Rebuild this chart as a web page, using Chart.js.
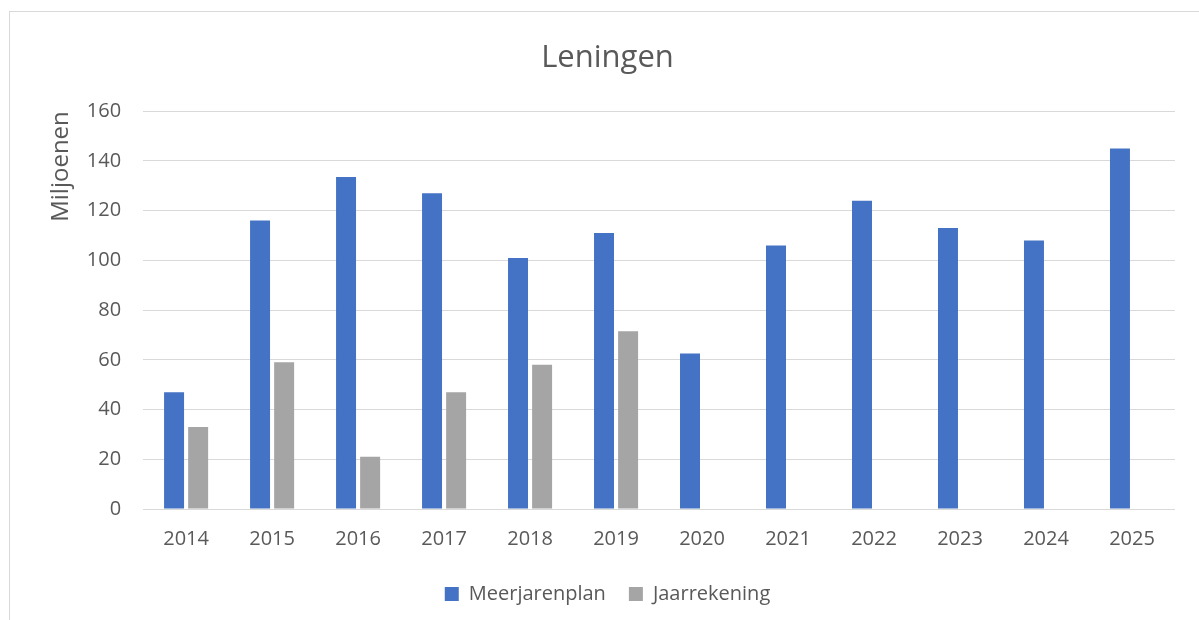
<!DOCTYPE html>
<html lang="nl">
<head>
<meta charset="UTF-8">
<title>Leningen</title>
<script src="https://cdn.jsdelivr.net/npm/chart.js"></script>
<style>
body {
    margin: 0;
    padding: 0;
    background: white;
    width: 1199px;
    height: 620px;
    overflow: hidden;
}
.frame {
    position: absolute;
    left: 9px;
    top: 11px;
    width: 1300px;
    height: 700px;
    border: 1px solid #d9d9d9;
}
.chart-container {
    position: absolute;
    left: 0;
    top: 0;
    width: 1199px;
    height: 620px;
}
</style>
</head>
<body>
<div class="frame"></div>
<div class="chart-container">
    <canvas id="leningen"></canvas>
</div>
<script>
// data
const jaren = ['2014', '2015', '2016', '2017', '2018', '2019', '2020', '2021', '2022', '2023', '2024', '2025'];
const meerjarenplan = [47, 116, 133.5, 127, 101, 111, 62.5, 106, 124, 113, 108, 145];
const jaarrekening = [33, 59, 21, 47, 58, 71.5, null, null, null, null, null, null];
const yTicks = [0, 20, 40, 60, 80, 100, 120, 140, 160];

const tekst = '#595959';
const font = "'Open Sans', sans-serif";

new Chart(document.getElementById('leningen'), {
    type: 'bar',
    data: {
        labels: jaren,
        datasets: [{
            label: 'Meerjarenplan',
            data: meerjarenplan,
            backgroundColor: '#4472c4',
            categoryPercentage: 0.56,
            barPercentage: 0.83
        }, {
            label: 'Jaarrekening',
            data: jaarrekening,
            backgroundColor: '#a5a5a5',
            categoryPercentage: 0.56,
            barPercentage: 0.83
        }]
    },
    options: {
        responsive: true,
        maintainAspectRatio: false,
        animation: false,
        layout: { padding: { left: 40, right: 24, top: 24, bottom: 6 } },
        plugins: {
            title: {
                display: true,
                text: 'Leningen',
                color: tekst,
                font: { family: font, size: 31, weight: 'normal' },
                padding: { top: 16, bottom: 34 }
            },
            legend: {
                position: 'bottom',
                labels: {
                    color: tekst,
                    font: { family: font, size: 20 },
                    boxWidth: 14,
                    boxHeight: 14,
                    padding: 23
                }
            },
            tooltip: { enabled: false }
        },
        scales: {
            x: {
                grid: { display: false },
                border: { display: false },
                ticks: { color: tekst, font: { family: font, size: 20 }, padding: 10 }
            },
            y: {
                min: 0,
                max: 160,
                afterBuildTicks: axis => { axis.ticks = yTicks.map(v => ({ value: v })); },
                grid: { color: '#d9d9d9', drawTicks: false },
                border: { display: false },
                ticks: { color: tekst, font: { family: font, size: 20 }, padding: 22 },
                title: {
                    display: true,
                    text: 'Miljoenen',
                    align: 'end',
                    color: tekst,
                    font: { family: font, size: 24 },
                    padding: { top: 7, bottom: -11 }
                }
            }
        }
    }
});
</script>
</body>
</html>
